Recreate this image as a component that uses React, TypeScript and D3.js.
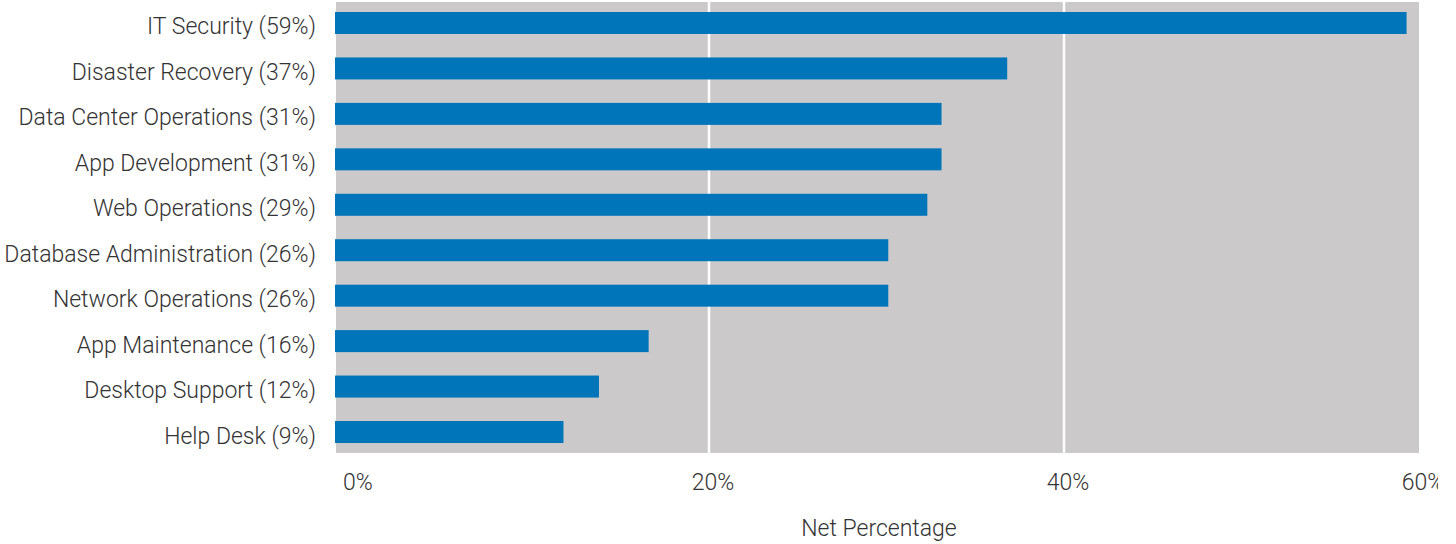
import React from "react";
import * as d3 from "d3";

const categories = [
  "IT Security (59%)",
  "Disaster Recovery (37%)",
  "Data Center Operations (31%)",
  "App Development (31%)",
  "Web Operations (29%)",
  "Database Administration (26%)",
  "Network Operations (26%)",
  "App Maintenance (16%)",
  "Desktop Support (12%)",
  "Help Desk (9%)",
];
const barValues = [59.3, 36.8, 33.1, 33.1, 32.3, 30.1, 30.1, 16.6, 13.8, 11.8];
const tickValues = [0, 20, 40, 60];
const axisTitle = "Net Percentage";

const H = 544;
const plotLeft = 336;
const plotRight = 1419;
const plotTop = 2;
const plotBottom = 453;
const FONT = "Roboto, 'Liberation Sans', Arial, sans-serif";
const TEXT = "#333333";
const FS = 23;

export default function App() {
  const x = d3.scaleLinear().domain([0, 60]).range([354, 1419]);
  const y = d3
    .scaleBand<string>()
    .domain(categories)
    .range([plotTop, plotBottom])
    .paddingInner(0.516)
    .paddingOuter(0.22);

  return (
    <svg
      width={1438}
      height={H}
      style={{ position: "absolute", left: 0, top: 0, background: "#fff" }}
      fontFamily={FONT}
    >
      <rect
        x={plotLeft}
        y={plotTop}
        width={plotRight - plotLeft}
        height={plotBottom - plotTop}
        fill="#cbc9ca"
      />
      {tickValues
        .filter((t) => t > 0 && t < 60)
        .map((t) => (
          <line
            key={"g" + t}
            x1={x(t)}
            x2={x(t)}
            y1={plotTop}
            y2={plotBottom}
            stroke="#ffffff"
            strokeWidth={2.5}
          />
        ))}
      {categories.map((c, i) => (
        <rect
          key={"b" + c}
          x={plotLeft - 1}
          y={y(c)}
          width={x(barValues[i]) - (plotLeft - 1)}
          height={y.bandwidth()}
          fill="#0075ba"
        />
      ))}
      {categories.map((c) => (
        <text
          key={"l" + c}
          x={316}
          y={(y(c) as number) + y.bandwidth() / 2}
          dy="0.5em"
          textAnchor="end"
          fontSize={FS}
          fontWeight={300}
          fill={TEXT}
        >
          {c}
        </text>
      ))}
      {tickValues.map((t) => (
        <text
          key={"t" + t}
          x={x(t) + 4}
          y={490}
          textAnchor="middle"
          fontSize={FS}
          fontWeight={300}
          fill={TEXT}
        >
          {t + "%"}
        </text>
      ))}
      <text
        x={879}
        y={536}
        textAnchor="middle"
        fontSize={FS}
        fontWeight={300}
        fill={TEXT}
      >
        {axisTitle}
      </text>
    </svg>
  );
}
